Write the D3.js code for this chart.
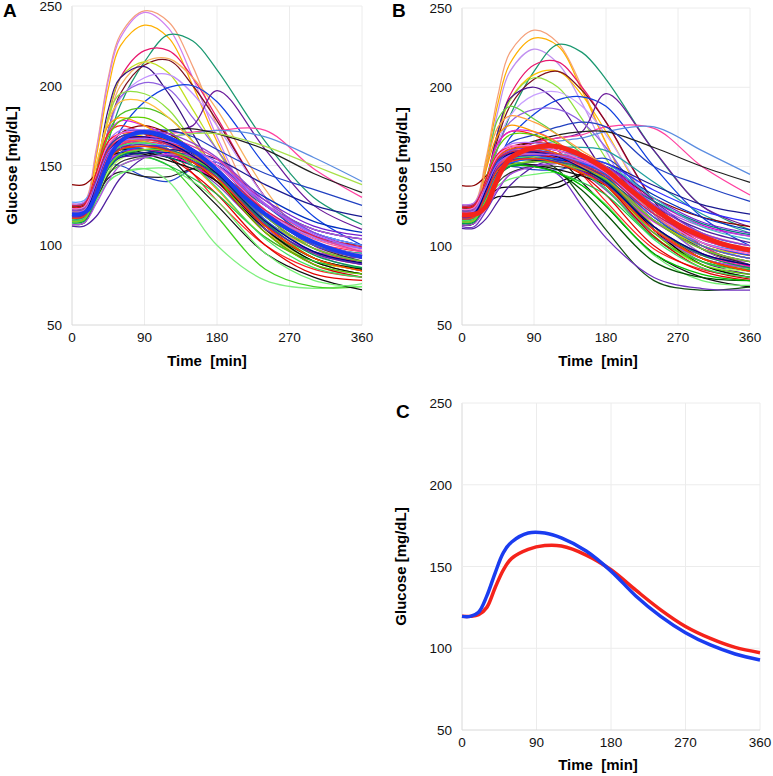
<!DOCTYPE html>
<html><head><meta charset="utf-8">
<script src="https://cdn.jsdelivr.net/npm/d3@7"></script>
<style>
html,body{margin:0;padding:0;background:#fff;}
svg text{font-family:"Liberation Sans",Arial,sans-serif;}
</style></head>
<body>
<svg id="chart" width="773" height="776"></svg>
<script>
// ---------- DATA ----------
const xTicks = [0, 90, 180, 270, 360];
const yTicks = [50, 100, 150, 200, 250];
const timesMin = [0, 15, 30, 45, 60, 90, 120, 150, 180, 240, 300, 360];
const timesMean = [0, 10, 20, 30, 40, 50, 60, 80, 100, 120, 150, 180, 210, 240, 270, 300, 330, 360];
const meanBlue = [119.5, 119.5, 122, 132, 146, 158.5, 165, 170.5, 170.5, 167.5, 159.5, 147.2, 132, 119.5, 109.5, 102, 96.5, 92.8];
const meanRed  = [119.5, 119.5, 120.5, 125, 137, 148, 155, 160.5, 162.8, 162.5, 157, 148, 135.5, 123.5, 113.3, 106, 100.5, 97.3];

const colorsA = ["#f5a07a","#d080f0","#ffb000","#1a9870","#e8186e","#7a1020","#f8b060","#c0e020","#3a1080","#c090ff",
"#9060e0","#1040e0","#6a1a9a","#90e040","#50c020","#ff40a0","#5b8de0","#202020","#a8e048","#2040c0",
"#e020e0","#ff2020","#2244cc","#222222","#80f080","#40d020","#101010","#8b0000","#5020a0","#20a0a0",
"#ff9900","#ffd000","#ff80c0","#208020","#0000ee","#a040ff","#d000d0","#e00000","#b0ff60","#000000",
"#4080ff","#30b080","#ff8000","#8040c0","#ff3060","#3050ff","#20c040","#303030","#b070ff","#ff00cc",
"#d0e000","#cc0000","#0030c0","#70f070","#008080","#7020d0","#ffc040","#ff60a0","#60a0ff","#111111",
"#60d000","#1a1a90","#ff1010","#b050e0",
"#ff5050","#3060e0","#40e060","#9040d0","#e040a0","#2050ff","#f06000","#00a050","#ff70d0","#6020b0",
"#1040c0","#80d020","#d02050","#000080","#ff4000","#a060ff"];
const curvesA = [
[126,127,160,205,232,247,240,212,175,115,88,80],
[124,125,158,203,230,246,236,205,168,112,88,82],
[122,123,155,198,225,238,230,200,165,110,90,85],
[125,126,140,165,188,215,232,228,210,165,130,113],
[120,121,145,180,205,222,222,205,180,130,100,88],
[118,119,140,172,195,213,216,200,178,130,100,88],
[122,123,145,178,200,215,217,205,185,135,100,90],
[119,120,145,180,205,215,208,185,160,115,92,85],
[117,118,145,185,205,212,195,170,145,110,90,82],
[121,122,140,170,192,205,207,195,175,130,100,88],
[120,121,140,172,193,202,198,180,160,120,95,85],
[118,119,135,155,172,190,199,200,190,150,118,100],
[116,117,128,145,158,168,172,175,197,160,125,110],
[119,120,145,180,195,195,185,165,145,110,90,82],
[118,119,140,170,182,186,180,165,148,115,92,84],
[121,122,138,155,163,168,170,171,172,172,148,130],
[120,121,135,150,160,166,168,170,172,168,155,140],
[118,119,135,152,162,168,172,173,170,160,145,133],
[117,118,132,148,158,165,168,170,170,162,150,138],
[119,120,138,158,168,172,172,168,160,145,135,125],
[122,123,145,170,178,175,168,155,140,115,100,92],
[120,121,145,170,175,170,160,145,128,100,85,80],
[124,125,140,150,150,143,140,148,152,125,105,98],
[115,116,130,142,146,143,143,148,150,120,100,92],
[113,114,128,140,145,148,140,120,100,78,73,76],
[118,119,132,145,150,155,150,135,118,85,74,74],
[115,116,132,150,158,160,155,140,125,95,80,72],
[138,138,145,160,170,175,170,160,148,120,105,100],
[112,112,118,130,142,155,160,158,150,125,108,100],
[124,125,142,160,168,168,163,155,145,120,105,98],
[123,124,150,175,180,175,165,150,135,105,90,86],
[118,119,140,162,170,168,160,150,140,115,98,90],
[121,122,140,162,168,165,160,155,145,120,105,97],
[116,117,132,150,158,160,158,152,140,110,92,85],
[119,120,138,158,165,168,165,157,145,118,102,94],
[117,118,135,155,163,165,160,152,140,112,96,90],
[120,121,136,155,160,162,162,158,150,125,110,104],
[122,123,140,158,162,160,155,145,132,100,82,78],
[114,115,128,146,154,158,158,152,140,108,90,86],
[121,122,138,155,160,158,155,150,140,110,90,82],
[125,126,140,158,165,166,163,155,142,115,100,95],
[119,120,134,150,157,160,158,150,140,115,100,95],
[116,117,133,152,160,162,158,150,140,112,95,90],
[123,124,140,158,165,165,160,150,138,110,96,92],
[118,119,136,156,163,165,162,155,145,118,102,96],
[121,122,140,162,170,172,168,160,150,125,108,100],
[124,125,140,155,158,156,150,142,132,105,90,86],
[113,114,128,144,152,156,156,152,145,120,100,90],
[126,127,145,165,172,172,168,160,150,122,105,98],
[117,118,134,152,158,160,157,150,140,112,95,88],
[120,121,140,160,166,165,160,152,142,115,100,94],
[119,120,136,154,160,162,160,152,140,108,88,80],
[116,117,132,150,156,158,158,156,150,130,115,108],
[115,116,128,140,145,148,148,140,128,95,78,74],
[122,123,138,155,160,160,155,150,145,125,110,104],
[118,119,134,150,155,156,156,155,150,128,112,106],
[121,122,150,178,190,190,180,165,148,112,95,88],
[119,120,140,160,167,168,164,156,146,120,104,96],
[127,128,140,156,162,164,162,158,150,125,108,100],
[124,125,140,155,158,157,153,148,140,112,92,85],
[121,122,145,168,178,180,172,158,142,108,88,82],
[117,118,132,148,155,158,160,158,154,138,125,118],
[124,125,145,165,170,170,165,158,150,122,100,92],
[113,114,126,140,150,155,157,156,150,125,110,104],
[118,119,136,156,164,166,164,158,148,118,98,88],
[120,121,138,158,166,170,168,160,148,116,96,88],
[116,117,134,154,162,164,160,150,136,104,86,80],
[122,123,142,162,170,172,170,164,155,128,108,98],
[119,120,137,157,165,168,167,162,154,126,106,96],
[117,118,133,150,158,162,162,158,150,120,100,92],
[121,122,141,161,168,170,166,158,146,112,92,84],
[114,115,130,148,156,160,160,154,144,114,94,86],
[123,124,143,163,170,171,167,160,150,122,102,94],
[118,119,135,154,161,163,160,153,143,113,95,88],
[120,121,140,161,168,170,166,158,148,118,98,90],
[115,116,131,149,157,160,159,154,146,118,98,90],
[125,126,142,160,166,167,163,156,147,122,106,99],
[119,120,138,158,166,168,164,156,145,115,96,89],
[117,118,134,153,160,162,159,152,142,112,92,84],
[121,122,139,158,165,167,165,160,152,126,107,98]
];

const colorsB = ["#f5a07a","#ffb000","#c090f0","#1a9870","#e8186e","#ffc000","#7a1020","#90e040","#4b1090","#c8a0ff",
"#1040e0","#6a1a9a","#60d040","#9060e0","#ff40a0","#5b8de0","#202020","#2040c0","#20a0a0","#ff2020",
"#000000","#111111","#105010","#7030c0","#e020e0","#2244cc","#101010","#8b0000","#5020a0","#ff9900",
"#ff80c0","#208020","#0000ee","#a040ff","#d000d0","#e00000","#b0ff60","#000000","#4080ff","#30b080",
"#ff8000","#8040c0","#ff3060","#20c040","#303030","#b070ff","#ff00cc","#d0e000","#cc0000","#0030c0",
"#70f070","#008080","#7020d0","#ff60a0","#111111","#60d000","#1a1a90","#ff1010","#b050e0","#005000",
"#00c000","#40c0c0","#ffa040","#3030ff",
"#ff5050","#3060e0","#40e060","#9040d0","#e040a0","#2050ff","#f06000","#00a050","#ff70d0","#6020b0",
"#1040c0","#80d020","#d02050","#000080","#ff4000","#a060ff"];
const curvesB = [
[126,127,155,195,222,236,228,200,165,112,88,80],
[122,123,152,190,215,231,226,198,165,110,90,85],
[124,125,150,185,210,224,215,190,160,110,88,82],
[125,126,140,162,182,210,227,222,205,160,125,110],
[120,121,140,172,195,214,216,200,178,128,100,88],
[119,120,140,170,192,208,210,195,172,122,95,86],
[118,119,138,168,188,205,210,198,178,128,98,87],
[117,118,140,172,192,206,200,180,155,112,92,85],
[116,117,140,172,193,200,190,168,145,110,90,82],
[121,122,138,165,182,195,197,188,170,125,98,88],
[118,119,134,152,168,183,192,194,188,150,118,100],
[115,116,126,142,155,165,168,172,196,160,125,112],
[119,120,148,180,188,180,170,158,145,110,90,84],
[120,121,138,162,178,186,186,178,162,120,95,86],
[121,122,136,152,160,165,168,170,175,174,150,132],
[120,121,134,148,157,163,166,168,172,175,160,145],
[118,119,134,150,160,166,170,172,172,162,150,140],
[119,120,136,155,165,170,175,178,175,150,138,128],
[123,124,138,152,158,160,162,162,160,140,120,108],
[120,121,142,165,172,170,160,145,128,98,85,80],
[116,117,128,136,137,137,137,145,150,120,100,92],
[113,114,126,131,131,135,140,145,140,110,92,86],
[115,116,130,148,155,155,148,130,110,78,72,74],
[112,112,122,135,145,150,145,125,105,80,73,72],
[122,123,142,165,172,172,165,152,140,115,100,92],
[124,125,138,148,150,148,148,152,155,128,108,100],
[115,116,130,147,155,158,155,140,125,95,80,74],
[138,138,144,155,162,165,163,158,150,130,118,112],
[111,111,117,128,138,150,155,154,148,125,110,102],
[123,124,148,170,176,172,165,152,138,108,92,86],
[121,122,138,158,163,162,158,152,145,122,108,100],
[116,117,132,148,155,157,155,148,136,105,88,80],
[119,120,136,154,160,162,160,154,145,120,104,96],
[117,118,133,150,156,158,155,148,136,108,92,86],
[120,121,134,150,155,158,158,155,150,128,113,106],
[122,123,138,154,158,156,152,145,132,100,84,78],
[114,115,127,143,150,154,155,150,138,106,88,84],
[121,122,136,150,154,154,152,148,140,110,88,80],
[125,126,138,153,158,160,158,152,142,116,102,96],
[119,120,132,146,152,155,154,148,140,116,100,94],
[116,117,132,148,155,157,155,148,138,110,94,88],
[123,124,138,152,157,157,154,146,135,108,94,90],
[118,119,134,150,156,158,157,152,145,120,104,97],
[124,125,138,150,152,150,146,140,132,105,90,85],
[113,114,126,140,146,150,150,147,142,118,98,88],
[126,127,142,158,164,165,162,155,146,120,104,97],
[117,118,132,148,153,155,153,147,138,110,94,87],
[120,121,138,155,160,160,156,150,142,116,100,94],
[119,120,134,150,155,157,155,148,138,106,86,79],
[116,117,130,146,151,153,154,153,150,132,118,110],
[115,116,127,138,142,145,146,138,126,94,78,75],
[122,123,136,150,154,155,152,148,145,128,114,107],
[118,119,132,146,150,151,152,152,150,130,115,108],
[119,120,138,155,160,160,157,150,142,118,104,97],
[124,125,138,150,152,151,148,144,138,112,92,84],
[121,122,142,162,170,170,164,152,140,108,88,82],
[117,118,130,144,150,153,155,155,152,138,126,120],
[124,125,142,158,162,162,158,152,146,122,102,94],
[113,114,124,136,145,150,152,152,148,126,112,106],
[119,120,132,146,150,150,146,135,120,90,80,78],
[117,118,130,145,150,150,146,138,125,95,82,78],
[120,121,133,150,156,158,158,156,152,130,112,104],
[118,119,150,175,182,178,170,160,150,120,100,92],
[117,118,134,150,155,157,157,155,152,135,122,115],
[118,119,134,150,156,158,156,150,142,116,98,90],
[120,121,136,152,158,160,158,152,145,118,100,92],
[116,117,132,148,154,156,153,146,136,104,86,80],
[122,123,138,155,160,162,160,156,150,126,108,100],
[119,120,135,151,157,159,158,154,147,122,104,96],
[117,118,131,146,152,155,155,152,146,120,102,94],
[121,122,139,156,161,162,158,151,142,112,92,84],
[114,115,128,144,150,153,153,149,141,112,94,86],
[123,124,140,157,162,163,160,154,146,120,102,95],
[118,119,133,149,154,155,153,147,139,112,95,88],
[120,121,137,154,159,160,157,151,143,116,98,90],
[115,116,129,145,151,153,152,148,142,116,98,90],
[125,126,140,155,159,160,157,151,144,120,105,98],
[119,120,135,152,158,159,156,149,140,112,95,88],
[117,118,132,148,153,155,152,146,138,110,92,84],
[121,122,137,152,157,158,157,153,147,124,106,98]
];

// ---------- DRAW ----------
const svg = d3.select("#chart");
const panels = [
  {label:"A", lx:3, ly:17, left:72, right:362, top:6, bottom:325, titleX:207, tickY:342, titleY:366, ylabX:17,
   curves:curvesA, colors:colorsA, mean:meanBlue, meanColor:"#1a3cf0", meanW:4},
  {label:"B", lx:392, ly:17, left:462, right:750, top:8, bottom:325, titleX:598, tickY:342, titleY:366, ylabX:407,
   curves:curvesB, colors:colorsB, mean:meanRed, meanColor:"#f5231b", meanW:5},
  {label:"C", lx:396, ly:418, left:462, right:760, top:403, bottom:730, titleX:598, tickY:747, titleY:770, ylabX:406,
   curves:[], colors:[], mean:null}
];

panels.forEach(p => {
  const x = d3.scaleLinear().domain([0, 360]).range([p.left, p.right]);
  const y = d3.scaleLinear().domain([50, 250]).range([p.bottom, p.top]);
  const g = svg.append("g");

  // grid
  g.selectAll(".vg").data(xTicks).join("line")
    .attr("x1", d => x(d)).attr("x2", d => x(d)).attr("y1", p.top).attr("y2", p.bottom)
    .attr("stroke", d => d === 0 ? "#d8d8d8" : "#ececec").attr("stroke-width", 1);
  g.selectAll(".hg").data(yTicks).join("line")
    .attr("x1", p.left).attr("x2", p.right).attr("y1", d => y(d)).attr("y2", d => y(d))
    .attr("stroke", d => d === 50 ? "#d8d8d8" : "#ececec").attr("stroke-width", 1);

  // tick labels
  g.selectAll(".xt").data(xTicks).join("text")
    .attr("x", d => x(d)).attr("y", p.tickY).attr("text-anchor", "middle")
    .attr("font-size", 13.5).attr("fill", "#111").text(d => d);
  g.selectAll(".yt").data(yTicks).join("text")
    .attr("x", p.left - 10).attr("y", d => y(d) + 5).attr("text-anchor", "end")
    .attr("font-size", 13.5).attr("fill", "#111").text(d => d);

  // titles
  g.append("text").attr("x", p.titleX).attr("y", p.titleY).attr("text-anchor", "middle")
    .attr("font-size", 15).attr("font-weight", "bold").style("white-space", "pre").text("Time  [min]");
  const cy = (p.top + p.bottom) / 2;
  g.append("text").attr("transform", `translate(${p.ylabX},${cy}) rotate(-90)`).attr("text-anchor", "middle")
    .attr("font-size", 15).attr("font-weight", "bold").text("Glucose [mg/dL]");
  g.append("text").attr("x", p.lx).attr("y", p.ly).attr("font-size", 19).attr("font-weight", "bold").text(p.label);

  const line = d3.line().x(d => x(d[0])).y(d => y(d[1])).curve(d3.curveCatmullRom.alpha(0.5));

  // spaghetti curves
  g.selectAll(".c").data(p.curves).join("path")
    .attr("d", vals => line(vals.map((v, i) => [timesMin[i], v])))
    .attr("fill", "none").attr("stroke", (d, i) => p.colors[i]).attr("stroke-width", 1.25);

  if (p.mean) {
    g.append("path").attr("d", line(p.mean.map((v, i) => [timesMean[i], v])))
      .attr("fill", "none").attr("stroke", p.meanColor).attr("stroke-width", p.meanW);
  } else {
    g.append("path").attr("d", line(meanRed.map((v, i) => [timesMean[i], v])))
      .attr("fill", "none").attr("stroke", "#f5231b").attr("stroke-width", 3.5);
    g.append("path").attr("d", line(meanBlue.map((v, i) => [timesMean[i], v])))
      .attr("fill", "none").attr("stroke", "#1a3cf0").attr("stroke-width", 3.5);
  }
});
</script>
</body></html>
